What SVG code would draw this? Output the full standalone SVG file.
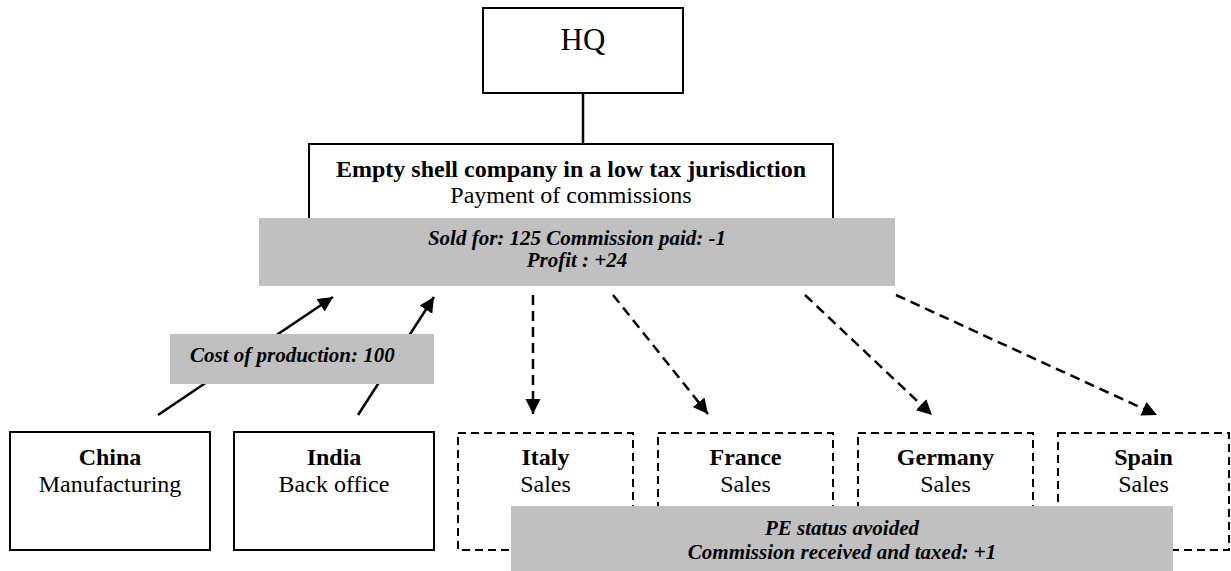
<svg xmlns="http://www.w3.org/2000/svg" width="1231" height="571" viewBox="0 0 1231 571">
<defs>
<style>
.box{fill:#fff;stroke:#000;stroke-width:2}
.dbox{fill:#fff;stroke:#000;stroke-width:2;stroke-dasharray:8 5}
.grey{fill:#c0c0c0;stroke:none}
.t{font-family:"Liberation Serif","Times New Roman",serif;fill:#000;text-anchor:middle}
.b{font-weight:bold}
.n{font-size:24px}
.lab{font-size:21px;font-weight:bold;font-style:italic}
.sol{stroke:#000;stroke-width:2.5;fill:none}
.dash{stroke:#000;stroke-width:2.5;fill:none;stroke-dasharray:10 6}
</style>
<marker id="ah" markerUnits="userSpaceOnUse" markerWidth="16" markerHeight="16" refX="15" refY="7.5" orient="auto">
<path d="M0,0 L15,7.5 L0,15 z" fill="#000"/>
</marker>
</defs>
<rect width="1231" height="571" fill="#fff"/>

<g id="connectors">
<line class="sol" x1="583" y1="93" x2="583" y2="144" stroke-width="2"/>
<line class="sol" x1="158" y1="415" x2="333" y2="297" marker-end="url(#ah)"/>
<line class="sol" x1="358" y1="415" x2="434" y2="297" marker-end="url(#ah)"/>
<line class="dash" x1="533" y1="295" x2="533" y2="414" marker-end="url(#ah)"/>
<line class="dash" x1="613" y1="295" x2="708" y2="414" marker-end="url(#ah)"/>
<line class="dash" x1="805" y1="295" x2="932" y2="415" marker-end="url(#ah)"/>
<line class="dash" x1="896" y1="295" x2="1157" y2="415" marker-end="url(#ah)"/>
</g>

<g id="hq">
<rect class="box" x="483" y="8" width="200" height="85"/>
<text class="t" x="583" y="50" font-size="31">HQ</text>
</g>

<g id="shell">
<rect class="box" x="309" y="144" width="524" height="100"/>
<text class="t n b" x="571" y="177">Empty shell company in a low tax jurisdiction</text>
<text class="t n" x="571" y="203">Payment of commissions</text>
</g>

<g id="shell-label">
<rect class="grey" x="259" y="218" width="636" height="68"/>
<text class="t lab" x="577" y="245">Sold for: 125 Commission paid: -1</text>
<text class="t lab" x="577" y="267">Profit : +24</text>
</g>

<g id="cost-label">
<rect class="grey" x="170" y="334" width="264" height="50"/>
<text class="t lab" x="190" y="362" style="text-anchor:start">Cost of production: 100</text>
</g>

<g id="china">
<rect class="box" x="10" y="432" width="200" height="118"/>
<text class="t n b" x="110" y="465">China</text>
<text class="t n" x="110" y="492">Manufacturing</text>
</g>

<g id="india">
<rect class="box" x="234" y="432" width="200" height="118"/>
<text class="t n b" x="334" y="465">India</text>
<text class="t n" x="334" y="492">Back office</text>
</g>

<g id="italy">
<rect class="dbox" x="458" y="433" width="175" height="117"/>
<text class="t n b" x="545.5" y="465">Italy</text>
<text class="t n" x="545.5" y="492">Sales</text>
</g>

<g id="france">
<rect class="dbox" x="658" y="433" width="175" height="117"/>
<text class="t n b" x="745.5" y="465">France</text>
<text class="t n" x="745.5" y="492">Sales</text>
</g>

<g id="germany">
<rect class="dbox" x="858" y="433" width="175" height="117"/>
<text class="t n b" x="945.5" y="465">Germany</text>
<text class="t n" x="945.5" y="492">Sales</text>
</g>

<g id="spain">
<rect class="dbox" x="1058" y="433" width="171" height="117"/>
<text class="t n b" x="1143.5" y="465">Spain</text>
<text class="t n" x="1143.5" y="492">Sales</text>
</g>

<g id="pe-label">
<rect class="grey" x="511" y="506" width="662" height="65"/>
<text class="t lab" x="842" y="535">PE status avoided</text>
<text class="t lab" x="842" y="559">Commission received and taxed: +1</text>
</g>
</svg>
